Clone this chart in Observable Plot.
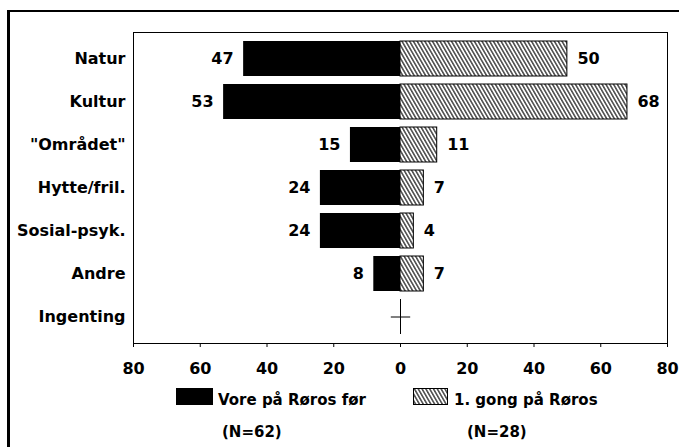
<!DOCTYPE html>
<html>
<head>
<meta charset="utf-8">
<script src="https://cdn.jsdelivr.net/npm/d3@7"></script>
<script src="https://cdn.jsdelivr.net/npm/@observablehq/plot@0.6"></script>
<style>
  html, body { margin: 0; padding: 0; background: #fff; }
  #wrap { position: relative; width: 679px; height: 447px; overflow: hidden; font-family: "DejaVu Sans", sans-serif; font-weight: bold; color: #000; }
  #outer { position: absolute; left: 7px; top: 10px; width: 700px; height: 460px; border-left: 3px solid #000; border-top: 2px solid #000; }
  #chart { position: absolute; left: 0; top: 0; }
  .lg { position: absolute; font-size: 15px; line-height: 18px; white-space: nowrap; }
  .sw { position: absolute; box-sizing: border-box; }
</style>
</head>
<body>
<div id="wrap">
  <div id="outer"></div>
  <div id="chart"></div>
  <div class="sw" style="left:176px;top:388px;width:37px;height:17px;background:#000;"></div>
  <div class="lg" id="lab1" style="left:218px;top:391px;"></div>
  <div class="lg" id="n1" style="left:222px;top:423px;"></div>
  <svg class="sw" style="left:413px;top:388px;width:35px;height:17px;" width="35" height="17">
    <defs>
      <pattern id="hatchL" patternUnits="userSpaceOnUse" width="3.3" height="10" patternTransform="rotate(-30)">
        <line x1="0.8" y1="-1" x2="0.8" y2="11" stroke="#000" stroke-width="1.1"/>
      </pattern>
    </defs>
    <rect x="0.5" y="0.5" width="34" height="16" fill="url(#hatchL)" stroke="#000" stroke-width="1"/>
  </svg>
  <div class="lg" id="lab2" style="left:454px;top:391px;"></div>
  <div class="lg" id="n2" style="left:467px;top:423px;"></div>
</div>
<script>
const categories = ["Natur", "Kultur", "\"Området\"", "Hytte/fril.", "Sosial-psyk.", "Andre", "Ingenting"];
const beforeValues = [47, 53, 15, 24, 24, 8, 0];
const firstValues = [50, 68, 11, 7, 4, 7, 0];
const seriesNames = ["Vore på Røros før", "1. gong på Røros"];
const seriesN = ["(N=62)", "(N=28)"];
const xTicks = [-80, -60, -40, -20, 0, 20, 40, 60, 80];

const rows = categories.map((c, i) => ({cat: c, before: beforeValues[i], first: firstValues[i]}));

document.getElementById("lab1").textContent = seriesNames[0];
document.getElementById("lab2").textContent = seriesNames[1];
document.getElementById("n1").textContent = seriesN[0];
document.getElementById("n2").textContent = seriesN[1];

const plot = Plot.plot({
  width: 679,
  height: 380,
  marginLeft: 133,
  marginRight: 12,
  marginTop: 32,
  marginBottom: 37,
  style: {fontFamily: "DejaVu Sans, sans-serif", fontWeight: "bold", fontSize: "16px", color: "#000", background: "transparent", overflow: "visible"},
  x: {domain: [-80, 80], ticks: xTicks, tickFormat: d => Math.abs(d), label: null},
  y: {domain: categories, padding: 0.19, label: null},
  marks: [
    Plot.frame({stroke: "#000", strokeWidth: 1}),
    Plot.barX(rows, {y: "cat", x1: 0, x2: d => -d.before, fill: "#000"}),
    Plot.barX(rows.filter(d => d.first > 0), {y: "cat", x1: 0, x2: "first", fill: "url(#hatch)", stroke: "#000", strokeWidth: 1}),
    Plot.dot(rows.filter(d => d.before === 0 && d.first === 0), {y: "cat", x: 0, symbol: "plus", r: 6.3, stroke: "#000", strokeWidth: 1}),
    Plot.tickX(rows.filter(d => d.before === 0 && d.first === 0), {y: "cat", x: 0, stroke: "#000", strokeWidth: 1}),
    Plot.text(rows.filter(d => d.before > 0), {y: "cat", x: d => -d.before, text: "before", textAnchor: "end", dx: -10, fontSize: 16, fontWeight: "bold"}),
    Plot.text(rows.filter(d => d.first > 0), {y: "cat", x: "first", text: "first", textAnchor: "start", dx: 10, fontSize: 16, fontWeight: "bold"}),
    Plot.axisY({tickSize: 0, tickPadding: 8, fontSize: 16, style: {letterSpacing: "0.3px"}}),
    Plot.axisX({ticks: xTicks, tickSize: 4, tickPadding: 15, tickFormat: d => Math.abs(d), fontSize: 16, label: null})
  ]
});

const ns = "http://www.w3.org/2000/svg";
const defs = document.createElementNS(ns, "defs");
defs.innerHTML = '<pattern id="hatch" patternUnits="userSpaceOnUse" width="3.3" height="10" patternTransform="rotate(-30)"><line x1="0.8" y1="-1" x2="0.8" y2="11" stroke="#000" stroke-width="1.1"/></pattern>';
plot.insertBefore(defs, plot.firstChild);
document.getElementById("chart").appendChild(plot);
</script>
</body>
</html>
